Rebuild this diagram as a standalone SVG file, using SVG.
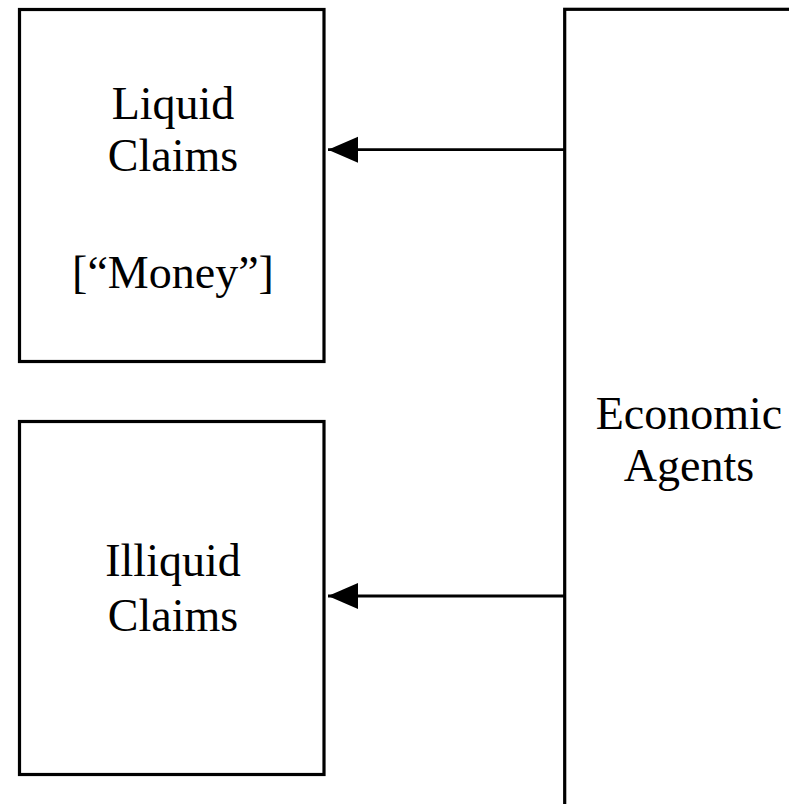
<svg xmlns="http://www.w3.org/2000/svg" width="789" height="804" viewBox="0 0 789 804">
<style>
.box{fill:#fff;stroke:#000;stroke-width:3.2}
.t{font-family:"Liberation Serif","Times New Roman",serif;font-size:46px;fill:#000;text-anchor:middle}
.conn{stroke:#000;stroke-width:2.8;fill:none}
</style>
<defs>
<marker id="ah" markerUnits="userSpaceOnUse" markerWidth="32" markerHeight="30" refX="30" refY="13" orient="auto">
<path d="M0,0 L30,13 L0,26 Z" fill="#000"/>
</marker>
</defs>
<rect width="789" height="804" fill="#fff"/>
<g id="liquid">
<rect class="box" x="19.5" y="9.5" width="304.5" height="352"/>
<text class="t" x="173" y="118.5">Liquid</text>
<text class="t" x="173" y="170.5">Claims</text>
<text class="t" x="173" y="288">[“Money”]</text>
</g>
<g id="illiquid">
<rect class="box" x="19.5" y="421.5" width="304.5" height="353"/>
<text class="t" x="173" y="575.5">Illiquid</text>
<text class="t" x="173" y="630.5">Claims</text>
</g>
<g id="agents">
<rect class="box" x="564.7" y="9.3" width="300" height="900"/>
<text class="t" x="689" y="429.3">Economic</text>
<text class="t" x="689" y="480.7">Agents</text>
</g>
<g id="connectors">
<line class="conn" x1="564.7" y1="149.7" x2="328" y2="149.7" marker-end="url(#ah)"/>
<line class="conn" x1="564.7" y1="596" x2="328" y2="596" marker-end="url(#ah)"/>
</g>
</svg>
